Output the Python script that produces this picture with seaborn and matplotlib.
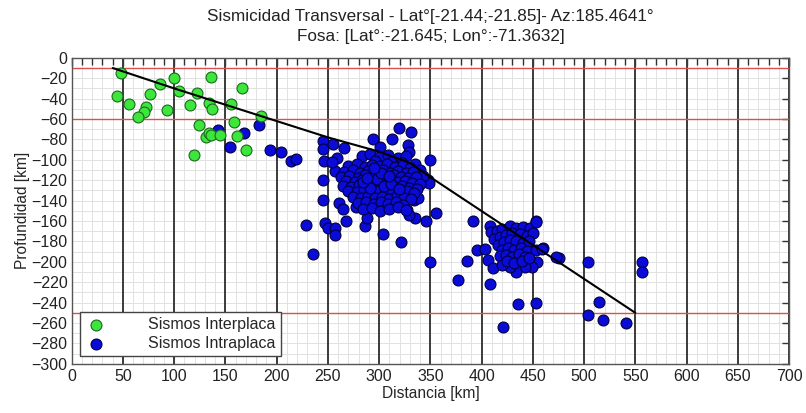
import numpy as np
import pandas as pd
import matplotlib
matplotlib.use("Agg")
import matplotlib.pyplot as plt
import seaborn as sns
from matplotlib.ticker import MultipleLocator

# DATA

# sismos interplaca (distancia km, profundidad km)
inter_x = [48, 44, 56, 76, 72, 71, 65, 86, 93, 100, 105, 115, 122, 124, 119,
           131, 134, 136, 134, 137, 136, 145, 155, 158, 161, 166, 170, 185]
inter_y = [-15, -37, -45, -35, -48, -53, -58, -26, -51, -20, -33, -46, -34, -66, -95,
           -78, -74, -76, -44, -50, -19, -76, -45, -63, -77, -30, -90, -57]

# sismos intraplaca, dispersos
intra_x = [143, 154, 168, 183, 193, 204, 214, 219, 229, 235, 245, 245, 255, 266,
           294, 301, 313, 319, 331, 328, 329, 350, 348, 355, 346, 335, 327, 329,
           321, 304, 286, 288, 268, 261, 265, 245, 246, 245, 247, 250, 257, 257,
           259, 257, 254, 277, 334, 337, 338, 349, 350, 392, 377, 386, 408, 435,
           453, 421, 453, 460, 475, 504, 515, 504, 518, 541, 556, 556, 395, 403,
           406, 411]
intra_y = [-71, -87, -74, -66, -90, -92, -101, -99, -164, -192, -82, -89, -84, -88,
           -80, -87, -80, -69, -73, -85, -92, -100, -120, -152, -160, -157, -149, -154,
           -181, -173, -165, -157, -160, -142, -148, -120, -101, -139, -162, -167, -167, -174,
           -98, -111, -102, -146, -139, -128, -137, -123, -200, -160, -218, -199, -222, -241,
           -240, -264, -160, -186, -196, -200, -239, -252, -257, -260, -200, -210, -188, -187,
           -198, -206]

# cumulo principal (~300 km)
c1_x = [283, 291, 300, 309, 318, 326, 296, 312, 322, 335,
        270, 278, 286, 293, 301, 308, 315, 323, 330, 340,
        266, 274, 281, 289, 296, 304, 311, 318, 326, 333, 343,
        263, 271, 279, 286, 293, 300, 307, 314, 321, 328, 336,
        268, 276, 283, 290, 297, 304, 311, 318, 325, 332, 340,
        265, 273, 280, 287, 294, 301, 308, 315, 322, 329, 337,
        270, 278, 285, 292, 299, 306, 313, 320, 327, 334,
        274, 282, 289, 296, 303, 310, 317, 324, 331,
        279, 287, 295, 302, 309, 316, 323,
        284, 293, 301, 310, 318, 326,
        298, 305, 312, 291, 284, 319, 302, 295, 310, 288]
c1_y = [-96, -94, -97, -95, -98, -96, -101, -102, -103, -104,
        -106, -104, -107, -105, -106, -104, -107, -105, -108, -110,
        -112, -110, -113, -111, -112, -110, -113, -111, -113, -112, -116,
        -117, -116, -118, -115, -117, -116, -118, -115, -117, -118, -117,
        -121, -122, -120, -122, -121, -123, -120, -122, -121, -123, -124,
        -126, -127, -125, -127, -126, -128, -125, -127, -126, -128, -129,
        -131, -132, -130, -132, -131, -133, -130, -132, -131, -133,
        -136, -137, -135, -137, -136, -138, -135, -137, -138,
        -142, -141, -143, -141, -143, -141, -144,
        -148, -147, -150, -148, -146, -149,
        -119, -126, -124, -128, -122, -129, -113, -108, -116, -118]

# cumulo secundario (~430 km)
c2_x = [408, 409, 415, 420, 428, 434, 440, 447, 453, 412, 418, 424, 430, 437, 444,
        450, 416, 422, 428, 434, 440, 446, 420, 426, 432, 438, 444, 418, 424, 430,
        436, 442, 453, 454, 449, 442, 434, 428, 420, 425, 432, 439, 446, 459, 473]
c2_y = [-165, -171, -170, -168, -165, -167, -166, -167, -161, -178, -176, -174, -172, -173, -175,
        -172, -183, -181, -179, -180, -182, -180, -188, -186, -188, -186, -189, -194, -193, -195,
        -192, -195, -188, -200, -205, -205, -210, -205, -203, -199, -201, -199, -196, -187, -195]

# perfil de la placa
slab_x = [40, 100, 200, 250, 300, 330, 350, 550]
slab_y = [-10, -30, -62, -78, -92, -103, -117, -250]

red_depths = [-10, -60, -250]

df_inter = pd.DataFrame({"x": inter_x, "y": inter_y})
df_intra = pd.DataFrame({"x": intra_x + c1_x + c2_x, "y": intra_y + c1_y + c2_y})
df_slab = pd.DataFrame({"x": slab_x, "y": slab_y})

# PLOT

sns.set_style("white")
plt.rcParams["font.family"] = ["Liberation Sans", "DejaVu Sans"]

fig, ax = plt.subplots(figsize=(8.06, 4.13), dpi=100)
fig.subplots_adjust(left=0.089, right=0.979, top=0.860, bottom=0.119)

# grilla
for v in range(0, 701, 10):
    if v % 50 == 0:
        ax.axvline(v, color="#3a3a3a", lw=1.4, zorder=1)
    else:
        ax.axvline(v, color="#e2e2e2", lw=0.7, zorder=0)
for v in range(-300, 1, 10):
    ax.axhline(v, color="#e2e2e2", lw=0.7, zorder=0)
for d in red_depths:
    ax.axhline(d, color="#d85050", lw=1.0, zorder=1)

sns.lineplot(data=df_slab, x="x", y="y", sort=False, color="black", lw=1.5,
             ax=ax, zorder=4, legend=False)

sns.scatterplot(data=df_inter, x="x", y="y", color="#3ce63c", edgecolor="#1a6a1a",
                linewidth=0.8, s=62, ax=ax, zorder=3, label="Sismos Interplaca")
sns.scatterplot(data=df_intra, x="x", y="y", color="#0b0bd8", edgecolor="#000040",
                linewidth=0.8, s=62, ax=ax, zorder=2, label="Sismos Intraplaca")

ax.set_xlim(0, 700)
ax.set_ylim(-300, 0)
ax.xaxis.set_major_locator(MultipleLocator(50))
ax.xaxis.set_minor_locator(MultipleLocator(10))
ax.yaxis.set_major_locator(MultipleLocator(20))
ax.tick_params(axis="both", which="both", direction="in", top=True, right=True,
               labelsize=11.5, colors="#333333", labelcolor="#222222")
ax.tick_params(axis="x", which="major", length=6, width=1, pad=4)
ax.tick_params(axis="x", which="minor", length=5, width=1)
ax.tick_params(axis="y", which="major", length=5, width=1, pad=3)
for sp in ax.spines.values():
    sp.set_color("#555555")
    sp.set_linewidth(1.0)

ax.set_xlabel("Distancia [km]", fontsize=11.2, labelpad=1)
ax.set_ylabel("Profundidad [km]", fontsize=11.2, labelpad=1)
ax.set_title("Sismicidad Transversal - Lat°[-21.44;-21.85]- Az:185.4641°\n"
             "Fosa: [Lat°:-21.645; Lon°:-71.3632]", fontsize=12.3, color="#222222",
             pad=12, linespacing=1.4)

leg = ax.legend(loc="lower left", fontsize=11.5, frameon=True, fancybox=False,
                edgecolor="#444444", framealpha=1, borderaxespad=0.5,
                handletextpad=2.5, borderpad=0.3, labelspacing=0.25, handlelength=1.5)
leg.get_frame().set_linewidth(1.0)

plt.savefig("out.png", dpi=100)
